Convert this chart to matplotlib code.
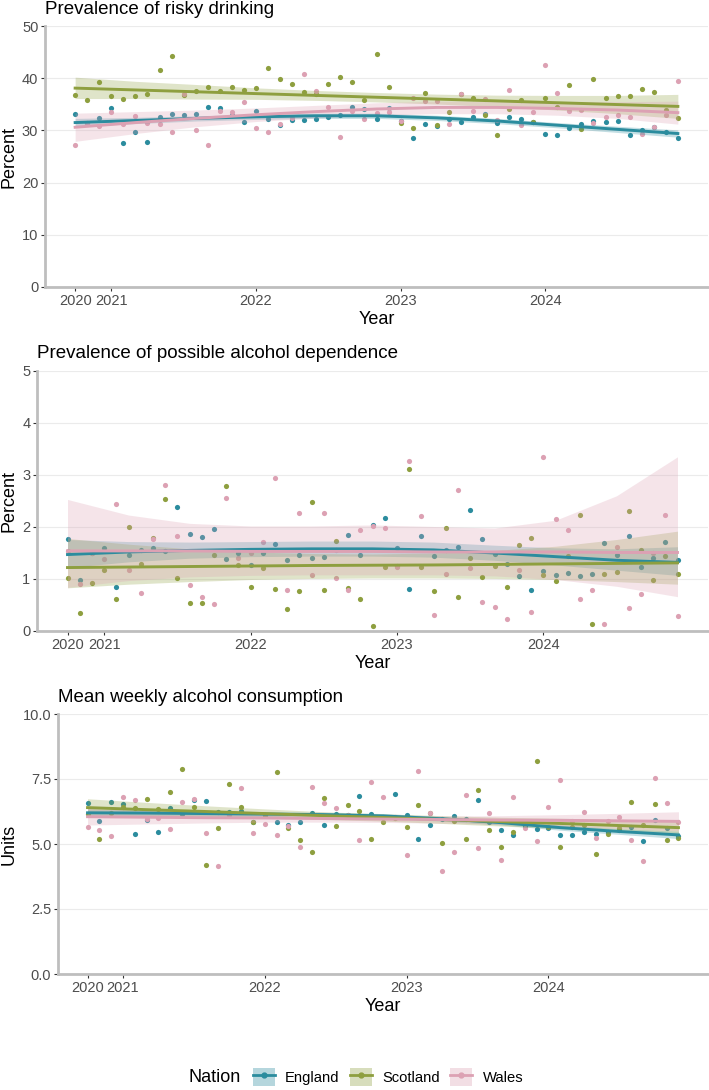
"""Alcohol use by nation, Oct 2020 - Dec 2024: three stacked panels with smoothed trends."""

import matplotlib
matplotlib.use("Agg")
import matplotlib.pyplot as plt
import numpy as np
import pandas as pd
from matplotlib.lines import Line2D
from matplotlib.patches import Patch

plt.rcParams["font.family"] = ["Liberation Sans", "DejaVu Sans"]

MONTHS = pd.period_range("2020-10", "2024-12", freq="M")
NATIONS = ["England", "Scotland", "Wales"]
COLOURS = {"England": "#2B8C9E", "Scotland": "#8E9F3F", "Wales": "#DCA1B3"}

KNOT_MONTHS = ["2020-10", "2021-03", "2021-08", "2022-01", "2022-06", "2022-11",
               "2023-04", "2023-09", "2024-02", "2024-07", "2024-12"]

# ---- panel 1: prevalence of risky drinking (%)
ENG_RISKY = [33.2, 31.5, 32.3, 34.3, 27.5, 29.6, 27.8, 32.5, 33.2, 32.9,
             33.2, 34.4, 34.3, 33.0, 31.7, 33.7, 32.2, 31.1, 32.0, 32.0,
             32.2, 32.5, 32.9, 34.5, 34.1, 32.2, 34.2, 31.8, 28.5, 31.2,
             30.8, 32.2, 31.7, 32.5, 33.1, 31.5, 32.5, 32.2, 31.7, 29.4,
             29.1, 30.4, 31.2, 31.8, 31.7, 31.8, 29.1, 30.0, 30.7, 29.6, 28.6]
SCO_RISKY = [36.7, 35.8, 39.2, 36.6, 36.0, 36.5, 37.0, 41.6, 44.2, 36.8,
             37.6, 38.4, 37.5, 38.3, 37.7, 38.1, 41.9, 39.8, 38.9, 37.3,
             37.0, 38.9, 40.2, 39.2, 35.8, 44.7, 38.4, 31.4, 30.4, 37.2,
             31.0, 33.5, 37.0, 36.2, 32.9, 29.1, 34.1, 35.9, 31.6, 36.3,
             34.4, 38.7, 30.2, 39.8, 36.3, 36.6, 36.6, 37.9, 37.3, 34.0, 32.4]
WAL_RISKY = [27.2, 31.3, 30.8, 33.6, 31.2, 32.8, 31.5, 31.3, 29.6, 37.0,
             30.1, 27.2, 33.7, 33.5, 35.4, 30.4, 29.6, 31.2, 32.3, 40.8,
             37.6, 34.4, 28.8, 33.8, 32.2, 33.3, 33.6, 31.8, 36.3, 35.6,
             35.6, 31.3, 36.9, 33.8, 36.0, 31.9, 37.8, 31.1, 33.6, 42.5,
             37.1, 33.7, 33.9, 31.5, 32.5, 32.9, 32.5, 29.4, 30.7, 32.9, 39.4]
ENG_RISKY_FIT = [31.5, 31.9, 32.3, 32.6, 32.8, 32.8, 32.4, 31.8, 31.0, 30.2, 29.4]
ENG_RISKY_LO = [30.7, 31.3, 31.8, 32.1, 32.3, 32.3, 31.9, 31.3, 30.5, 29.6, 28.7]
ENG_RISKY_HI = [32.3, 32.5, 32.8, 33.1, 33.3, 33.3, 32.9, 32.3, 31.5, 30.8, 30.1]
SCO_RISKY_FIT = [38.1, 37.75, 37.4, 37.05, 36.7, 36.35, 36.0, 35.65, 35.3, 34.95, 34.6]
SCO_RISKY_LO = [36.1, 36.1, 36.0, 35.95, 35.75, 35.45, 35.05, 34.55, 33.9, 33.2, 32.3]
SCO_RISKY_HI = [40.2, 39.4, 38.8, 38.15, 37.65, 37.25, 36.95, 36.75, 36.7, 36.7, 36.9]
WAL_RISKY_FIT = [30.6, 31.5, 32.3, 33.0, 33.6, 34.1, 34.4, 34.4, 34.2, 33.9, 33.4]
WAL_RISKY_LO = [27.9, 29.4, 30.7, 31.7, 32.4, 32.9, 33.2, 33.2, 32.9, 32.3, 31.2]
WAL_RISKY_HI = [33.3, 33.6, 33.9, 34.3, 34.8, 35.3, 35.6, 35.6, 35.5, 35.5, 35.6]

# ---- panel 2: prevalence of possible alcohol dependence (%)
ENG_DEP = [1.76, 0.99, 1.50, 1.60, 0.85, 1.47, 1.56, 1.60, 1.53, 2.38,
           1.87, 1.81, 1.96, 1.39, 1.50, 1.26, 1.50, 1.68, 1.37, 1.46,
           1.41, 1.43, 1.56, 1.85, 1.47, 2.04, 2.18, 1.60, 0.81, 1.82,
           1.45, 1.56, 1.62, 2.33, 1.76, 1.48, 1.29, 1.06, 0.78, 1.15,
           1.07, 1.12, 1.06, 1.10, 1.69, 1.46, 1.83, 1.23, 1.40, 1.72, 1.36]
SCO_DEP = [1.01, 0.35, 0.92, 1.17, 0.62, 2.00, 1.29, 1.79, 2.54, 1.01,
           0.54, 0.54, 1.47, 2.79, 1.26, 0.85, 1.22, 0.81, 0.42, 0.76,
           2.48, 0.78, 1.73, 0.83, 0.62, 0.10, 1.23, 1.25, 3.11, 1.23,
           0.77, 1.98, 0.65, 1.40, 1.04, 1.25, 0.84, 1.66, 1.78, 1.08,
           0.96, 1.45, 2.24, 0.14, 1.10, 1.14, 2.31, 1.55, 0.99, 1.44, 1.10]
WAL_DEP = [1.54, 0.90, 1.50, 1.39, 2.45, 1.17, 0.74, 1.76, 2.81, 1.82,
           0.89, 0.65, 0.51, 2.56, 1.41, 1.50, 1.71, 2.94, 0.78, 2.26,
           1.08, 2.26, 1.02, 0.78, 1.95, 2.01, 1.98, 1.23, 3.26, 2.22,
           0.31, 1.09, 2.72, 1.21, 0.56, 0.47, 0.24, 1.18, 0.37, 3.35,
           2.15, 1.94, 0.62, 0.78, 0.14, 1.62, 0.45, 0.72, 1.50, 2.24, 0.28]
ENG_DEP_FIT = [1.47, 1.52, 1.55, 1.57, 1.58, 1.58, 1.56, 1.50, 1.43, 1.36, 1.32]
ENG_DEP_LO = [1.22, 1.33, 1.40, 1.43, 1.44, 1.44, 1.42, 1.36, 1.27, 1.17, 1.07]
ENG_DEP_HI = [1.76, 1.72, 1.71, 1.72, 1.73, 1.73, 1.71, 1.65, 1.60, 1.58, 1.62]
SCO_DEP_FIT = [1.22, 1.23, 1.24, 1.25, 1.26, 1.265, 1.27, 1.28, 1.29, 1.30, 1.31]
SCO_DEP_LO = [0.83, 0.90, 0.95, 0.99, 1.01, 1.02, 1.02, 1.01, 0.99, 0.95, 0.90]
SCO_DEP_HI = [1.78, 1.67, 1.58, 1.52, 1.49, 1.48, 1.50, 1.55, 1.63, 1.76, 1.92]
WAL_DEP_FIT = [1.54, 1.54, 1.54, 1.53, 1.53, 1.53, 1.52, 1.52, 1.52, 1.51, 1.51]
WAL_DEP_LO = [0.84, 0.97, 1.04, 1.07, 1.08, 1.08, 1.08, 1.06, 0.99, 0.86, 0.66]
WAL_DEP_HI = [2.53, 2.23, 2.07, 2.02, 2.02, 2.04, 2.01, 1.98, 2.13, 2.60, 3.35]

# ---- panel 3: mean weekly alcohol consumption (units)
ENG_UNITS = [6.57, 5.87, 6.63, 6.54, 5.38, 5.91, 5.48, 6.38, 6.15, 6.68,
             6.66, 6.25, 6.25, 6.26, 5.86, 6.10, 5.84, 5.73, 5.83, 6.18,
             5.74, 6.16, 6.10, 6.83, 6.14, 6.05, 6.91, 6.10, 5.21, 5.75,
             5.96, 6.08, 5.95, 6.70, 5.85, 5.53, 5.33, 5.70, 5.57, 5.63,
             5.34, 5.34, 5.45, 5.38, 5.45, 5.55, 5.67, 5.12, 5.93, 5.61, 5.29]
SCO_UNITS = [6.14, 5.18, 6.20, 6.44, 6.37, 6.73, 6.34, 7.00, 7.89, 6.43,
             4.21, 5.60, 7.30, 6.44, 5.86, 6.10, 7.78, 5.63, 5.16, 4.69,
             6.78, 5.71, 6.49, 6.27, 5.20, 5.86, 6.00, 5.66, 6.50, 6.21,
             5.04, 5.90, 5.20, 7.08, 5.54, 4.87, 5.47, 5.80, 8.21, 5.67,
             4.90, 5.65, 5.74, 4.62, 5.38, 5.61, 6.63, 5.74, 6.53, 5.16, 5.25]
WAL_UNITS = [5.65, 5.54, 5.32, 6.79, 6.70, 5.95, 5.99, 5.59, 6.61, 6.72,
             5.42, 4.15, 6.10, 7.17, 5.42, 5.77, 5.35, 5.70, 4.90, 7.18,
             6.57, 6.39, 6.10, 5.15, 7.39, 6.81, 6.05, 4.59, 7.79, 6.18,
             3.97, 4.69, 6.90, 4.84, 6.20, 4.40, 6.80, 5.60, 5.10, 6.44,
             7.46, 5.90, 6.25, 5.22, 5.90, 6.03, 5.16, 4.33, 7.53, 6.57, 5.85]
ENG_UNITS_FIT = [6.20, 6.19, 6.17, 6.15, 6.13, 6.08, 5.97, 5.82, 5.63, 5.48, 5.35]
ENG_UNITS_LO = [6.05, 6.07, 6.07, 6.06, 6.04, 5.99, 5.88, 5.73, 5.53, 5.37, 5.21]
ENG_UNITS_HI = [6.35, 6.31, 6.27, 6.24, 6.22, 6.17, 6.06, 5.91, 5.73, 5.59, 5.49]
SCO_UNITS_FIT = [6.40, 6.32, 6.25, 6.17, 6.09, 6.02, 5.94, 5.86, 5.79, 5.71, 5.63]
SCO_UNITS_LO = [6.06, 6.04, 6.03, 5.99, 5.94, 5.88, 5.79, 5.69, 5.59, 5.47, 5.35]
SCO_UNITS_HI = [6.74, 6.60, 6.47, 6.35, 6.24, 6.16, 6.09, 6.03, 5.99, 5.95, 5.91]
WAL_UNITS_FIT = [6.05, 6.03, 6.01, 6.00, 5.98, 5.96, 5.94, 5.92, 5.91, 5.89, 5.87]
WAL_UNITS_LO = [5.73, 5.77, 5.81, 5.84, 5.84, 5.83, 5.80, 5.75, 5.69, 5.60, 5.50]
WAL_UNITS_HI = [6.37, 6.29, 6.21, 6.16, 6.12, 6.09, 6.08, 6.09, 6.13, 6.18, 6.24]

PANELS = [
    dict(title="Prevalence of risky drinking", ylabel="Percent",
         points={"England": ENG_RISKY, "Scotland": SCO_RISKY, "Wales": WAL_RISKY},
         trend={"England": (ENG_RISKY_FIT, ENG_RISKY_LO, ENG_RISKY_HI),
                "Scotland": (SCO_RISKY_FIT, SCO_RISKY_LO, SCO_RISKY_HI),
                "Wales": (WAL_RISKY_FIT, WAL_RISKY_LO, WAL_RISKY_HI)},
         ylim=(0, 50), yticks=[0, 10, 20, 30, 40, 50],
         ylabels=["0", "10", "20", "30", "40", "50"],
         box=(45, 26, 708, 287), xlab_top=311),
    dict(title="Prevalence of possible alcohol dependence", ylabel="Percent",
         points={"England": ENG_DEP, "Scotland": SCO_DEP, "Wales": WAL_DEP},
         trend={"England": (ENG_DEP_FIT, ENG_DEP_LO, ENG_DEP_HI),
                "Scotland": (SCO_DEP_FIT, SCO_DEP_LO, SCO_DEP_HI),
                "Wales": (WAL_DEP_FIT, WAL_DEP_LO, WAL_DEP_HI)},
         ylim=(0, 5), yticks=[0, 1, 2, 3, 4, 5],
         ylabels=["0", "1", "2", "3", "4", "5"],
         box=(37, 371, 708, 631), xlab_top=655),
    dict(title="Mean weekly alcohol consumption", ylabel="Units",
         points={"England": ENG_UNITS, "Scotland": SCO_UNITS, "Wales": WAL_UNITS},
         trend={"England": (ENG_UNITS_FIT, ENG_UNITS_LO, ENG_UNITS_HI),
                "Scotland": (SCO_UNITS_FIT, SCO_UNITS_LO, SCO_UNITS_HI),
                "Wales": (WAL_UNITS_FIT, WAL_UNITS_LO, WAL_UNITS_HI)},
         ylim=(0, 10), yticks=[0, 2.5, 5, 7.5, 10],
         ylabels=["0.0", "2.5", "5.0", "7.5", "10.0"],
         box=(58, 714, 708, 974), xlab_top=998),
]

W, H = 709, 1090

x = np.arange(len(MONTHS), dtype=float)
xk = MONTHS.get_indexer(pd.PeriodIndex(KNOT_MONTHS, freq="M")).astype(float)
tick_idx = [0] + [i for i, m in enumerate(MONTHS) if m.month == 1]
tick_lab = [str(MONTHS[i].year) for i in tick_idx]
pad = 0.05 * (x[-1] - x[0])

fig = plt.figure(figsize=(W / 100, H / 100), dpi=100)

for p in PANELS:
    l, t, r, b = p["box"]
    ax = fig.add_axes([l / W, 1 - b / H, (r - l) / W, (b - t) / H])
    for nation in NATIONS:
        c = COLOURS[nation]
        ax.scatter(x, p["points"][nation], s=14, color=c, linewidths=0, zorder=2)
        fit, lo, hi = p["trend"][nation]
        ax.fill_between(xk, lo, hi, color=c, alpha=0.28, linewidth=0, zorder=3)
        ax.plot(xk, fit, color=c, lw=2.1, zorder=4, solid_joinstyle="round")

    ax.set_xlim(x[0] - pad, x[-1] + pad)
    ax.set_ylim(*p["ylim"])
    ax.set_yticks(p["yticks"], p["ylabels"])
    ax.set_xticks(tick_idx, tick_lab)
    ax.grid(axis="y", color="#EBEBEB", lw=0.8, zorder=0)
    ax.set_axisbelow(True)
    for s in ("top", "right"):
        ax.spines[s].set_visible(False)
    for s in ("left", "bottom"):
        ax.spines[s].set_color("#BEBEBE")
        ax.spines[s].set_linewidth(2.0)
    ax.tick_params(length=2.8, width=0.8, color="#333333", labelcolor="#4D4D4D",
                   labelsize=10.5, pad=2)

    ax.set_title(p["title"], loc="left", fontsize=13.5, pad=9)
    ax.set_ylabel(p["ylabel"], fontsize=13)
    ax.yaxis.set_label_coords(18 / W, 1 - (t + b) / 2 / H, transform=fig.transFigure)
    ax.set_xlabel("Year", fontsize=13)
    ax.xaxis.set_label_coords((l + r) / 2 / W, 1 - p["xlab_top"] / H,
                              transform=fig.transFigure)

# legend along the bottom, title on the left
fig.text(189 / W, 1 - 1077 / H, "Nation", fontsize=13, ha="left", va="center")
handles = [(Patch(facecolor=COLOURS[n], alpha=0.35, edgecolor="none"),
            Line2D([], [], color=COLOURS[n], lw=2, marker="o", ms=3.5))
           for n in NATIONS]
fig.legend(handles, NATIONS, loc="center", bbox_to_anchor=(388 / W, 1 - 1077 / H),
           ncol=3, frameon=False, fontsize=10.6, handlelength=1.5, handleheight=1.55,
           handletextpad=0.7, columnspacing=0.7, borderpad=0)

fig.savefig("out.png", dpi=100)
